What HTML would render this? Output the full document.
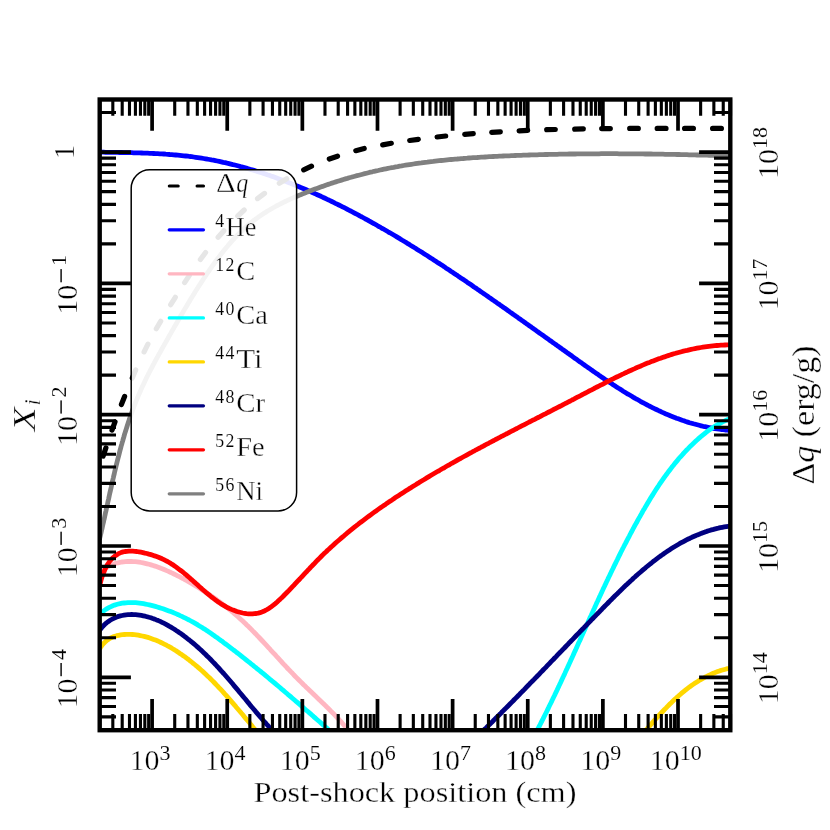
<!DOCTYPE html><html><head><meta charset="utf-8"><title>plot</title>
<style>html,body{margin:0;padding:0;background:#fff;}svg{display:block;will-change:transform;}text{font-family:"Liberation Serif",serif;fill:#000;stroke:#fff;stroke-width:0.35px;}.s{stroke-width:0.12px;}</style></head><body>
<svg width="830" height="830" viewBox="0 0 830 830">
<rect width="830" height="830" fill="#fff"/>
<defs><clipPath id="ax"><rect x="99.7" y="99.5" width="630.6" height="630.7"/></clipPath></defs>
<g clip-path="url(#ax)" fill="none" stroke-width="4.8" stroke-linejoin="round">
<path d="M99.6,152.1 L101.6,152.2 L103.6,152.2 L105.6,152.3 L107.6,152.3 L109.6,152.3 L111.6,152.3 L113.6,152.4 L115.6,152.4 L117.6,152.4 L119.6,152.5 L121.6,152.5 L123.6,152.6 L125.6,152.6 L127.6,152.6 L129.6,152.7 L131.6,152.7 L133.6,152.8 L135.6,152.8 L137.6,152.9 L139.7,152.9 L141.7,153.0 L143.7,153.1 L145.7,153.1 L147.7,153.2 L149.7,153.3 L151.7,153.4 L153.7,153.5 L155.7,153.6 L157.8,153.7 L159.8,153.8 L161.8,153.9 L163.8,154.0 L165.8,154.2 L167.8,154.3 L169.8,154.5 L171.8,154.6 L173.8,154.8 L175.8,155.0 L177.8,155.2 L179.8,155.4 L181.8,155.6 L183.8,155.8 L185.8,156.0 L187.8,156.2 L189.8,156.5 L191.7,156.7 L193.7,157.0 L195.7,157.3 L197.7,157.6 L199.7,157.9 L201.6,158.2 L203.6,158.5 L205.6,158.8 L207.5,159.2 L209.5,159.5 L211.5,159.9 L213.4,160.2 L215.4,160.6 L217.3,161.0 L219.3,161.4 L221.2,161.8 L223.2,162.3 L225.1,162.7 L227.1,163.2 L229.0,163.6 L230.9,164.1 L232.9,164.6 L234.8,165.0 L236.7,165.5 L238.6,166.0 L240.6,166.6 L242.5,167.1 L244.4,167.6 L246.3,168.1 L248.2,168.7 L250.1,169.3 L252.1,169.8 L254.0,170.4 L255.9,171.0 L257.8,171.6 L259.7,172.2 L261.6,172.8 L263.5,173.4 L265.3,174.0 L267.2,174.7 L269.1,175.3 L271.0,176.0 L272.9,176.6 L274.8,177.3 L276.6,178.0 L278.5,178.7 L280.4,179.4 L282.3,180.1 L284.1,180.8 L286.0,181.5 L287.8,182.2 L289.7,182.9 L291.6,183.7 L293.4,184.4 L295.3,185.2 L297.1,185.9 L299.0,186.7 L300.8,187.5 L302.6,188.2 L304.5,189.0 L306.3,189.8 L308.1,190.6 L310.0,191.4 L311.8,192.2 L313.6,193.0 L315.5,193.9 L317.3,194.7 L319.1,195.5 L320.9,196.3 L322.7,197.2 L324.5,198.0 L326.3,198.9 L328.2,199.8 L330.0,200.6 L331.8,201.5 L333.6,202.4 L335.4,203.3 L337.1,204.1 L338.9,205.0 L340.7,205.9 L342.5,206.8 L344.3,207.7 L346.1,208.6 L347.9,209.6 L349.6,210.5 L351.4,211.4 L353.2,212.3 L355.0,213.3 L356.7,214.2 L358.5,215.1 L360.2,216.1 L362.0,217.0 L363.8,218.0 L365.5,219.0 L367.3,219.9 L369.0,220.9 L370.8,221.9 L372.5,222.8 L374.3,223.8 L376.0,224.8 L377.7,225.8 L379.5,226.8 L381.2,227.8 L383.0,228.8 L384.7,229.8 L386.4,230.8 L388.1,231.8 L389.9,232.8 L391.6,233.8 L393.3,234.8 L395.0,235.8 L396.8,236.9 L398.5,237.9 L400.2,238.9 L401.9,240.0 L403.6,241.0 L405.3,242.0 L407.0,243.1 L408.7,244.1 L410.4,245.2 L412.1,246.2 L413.8,247.3 L415.5,248.3 L417.2,249.4 L418.9,250.5 L420.6,251.5 L422.3,252.6 L424.0,253.7 L425.7,254.8 L427.4,255.8 L429.1,256.9 L430.7,258.0 L432.4,259.1 L434.1,260.2 L435.8,261.3 L437.5,262.4 L439.1,263.4 L440.8,264.5 L442.5,265.6 L444.2,266.7 L445.8,267.9 L447.5,269.0 L449.2,270.1 L450.8,271.2 L452.5,272.3 L454.2,273.4 L455.8,274.5 L457.5,275.6 L459.1,276.8 L460.8,277.9 L462.5,279.0 L464.1,280.1 L465.8,281.2 L467.4,282.4 L469.1,283.5 L470.7,284.6 L472.4,285.8 L474.0,286.9 L475.7,288.0 L477.3,289.2 L479.0,290.3 L480.6,291.4 L482.3,292.6 L483.9,293.7 L485.6,294.9 L487.2,296.0 L488.8,297.2 L490.5,298.3 L492.1,299.4 L493.8,300.6 L495.4,301.7 L497.0,302.9 L498.7,304.0 L500.3,305.2 L502.0,306.3 L503.6,307.5 L505.2,308.6 L506.9,309.8 L508.5,310.9 L510.1,312.1 L511.8,313.3 L513.4,314.4 L515.0,315.6 L516.7,316.7 L518.3,317.9 L519.9,319.0 L521.5,320.2 L523.2,321.3 L524.8,322.5 L526.4,323.7 L528.1,324.8 L529.7,326.0 L531.3,327.1 L532.9,328.3 L534.6,329.4 L536.2,330.6 L537.8,331.8 L539.4,332.9 L541.1,334.1 L542.7,335.2 L544.3,336.4 L545.9,337.6 L547.6,338.7 L549.2,339.9 L550.8,341.0 L552.4,342.2 L554.1,343.4 L555.7,344.5 L557.3,345.7 L559.0,346.8 L560.6,348.0 L562.2,349.2 L563.8,350.3 L565.5,351.5 L567.1,352.7 L568.7,353.8 L570.4,355.0 L572.0,356.1 L573.6,357.3 L575.2,358.5 L576.9,359.6 L578.5,360.8 L580.1,362.0 L581.8,363.1 L583.4,364.3 L585.0,365.4 L586.7,366.6 L588.3,367.7 L590.0,368.9 L591.6,370.1 L593.2,371.2 L594.9,372.4 L596.5,373.5 L598.2,374.6 L599.8,375.8 L601.5,376.9 L603.1,378.0 L604.8,379.2 L606.5,380.3 L608.1,381.4 L609.8,382.5 L611.5,383.6 L613.1,384.7 L614.8,385.8 L616.5,386.9 L618.2,388.0 L619.9,389.0 L621.5,390.1 L623.2,391.2 L624.9,392.2 L626.6,393.3 L628.4,394.3 L630.1,395.3 L631.8,396.3 L633.5,397.4 L635.2,398.4 L637.0,399.3 L638.7,400.3 L640.4,401.3 L642.2,402.3 L643.9,403.2 L645.7,404.1 L647.5,405.1 L649.2,406.0 L651.0,406.9 L652.8,407.8 L654.6,408.7 L656.4,409.5 L658.2,410.4 L660.0,411.2 L661.8,412.1 L663.6,412.9 L665.4,413.7 L667.2,414.4 L669.1,415.2 L670.9,416.0 L672.7,416.7 L674.6,417.4 L676.4,418.2 L678.3,418.8 L680.2,419.5 L682.1,420.2 L683.9,420.8 L685.8,421.5 L687.7,422.1 L689.6,422.7 L691.5,423.2 L693.5,423.8 L695.4,424.3 L697.3,424.8 L699.2,425.3 L701.2,425.8 L703.1,426.3 L705.1,426.7 L707.1,427.1 L709.0,427.5 L711.0,427.9 L713.0,428.3 L715.0,428.6 L717.0,428.9 L719.0,429.2 L721.0,429.5 L723.1,429.7 L725.1,430.0 L727.1,430.2 L729.2,430.4 L731.2,430.5 L731.2,430.5" stroke="#0000ff"/>
<path d="M99.0,573.6 L100.6,572.1 L102.2,570.7 L103.9,569.4 L105.5,568.3 L107.2,567.2 L109.0,566.2 L110.7,565.4 L112.5,564.6 L114.3,563.9 L116.1,563.3 L118.0,562.8 L119.9,562.4 L121.7,562.0 L123.6,561.8 L125.5,561.6 L127.5,561.5 L129.4,561.4 L131.4,561.5 L133.3,561.6 L135.3,561.7 L137.3,561.9 L139.2,562.2 L141.2,562.5 L143.2,562.9 L145.2,563.3 L147.2,563.8 L149.1,564.3 L151.1,564.9 L153.1,565.5 L155.0,566.1 L157.0,566.8 L158.9,567.5 L160.9,568.3 L162.8,569.0 L164.7,569.8 L166.6,570.6 L168.5,571.4 L170.3,572.3 L172.2,573.1 L174.0,574.0 L175.8,574.9 L177.6,575.8 L179.4,576.7 L181.1,577.6 L182.9,578.5 L184.6,579.5 L186.4,580.4 L188.1,581.4 L189.8,582.4 L191.5,583.4 L193.2,584.4 L194.9,585.4 L196.6,586.5 L198.3,587.5 L200.0,588.6 L201.6,589.6 L203.3,590.7 L205.0,591.8 L206.6,592.9 L208.3,594.0 L209.9,595.1 L211.6,596.2 L213.2,597.3 L214.9,598.5 L216.5,599.6 L218.1,600.8 L219.7,602.0 L221.3,603.1 L222.9,604.3 L224.5,605.6 L226.1,606.8 L227.6,608.0 L229.2,609.3 L230.7,610.5 L232.3,611.8 L233.8,613.1 L235.3,614.4 L236.8,615.7 L238.3,617.0 L239.8,618.4 L241.2,619.7 L242.7,621.1 L244.2,622.5 L245.6,623.8 L247.0,625.2 L248.5,626.6 L249.9,628.0 L251.3,629.4 L252.7,630.9 L254.1,632.3 L255.5,633.7 L256.9,635.2 L258.3,636.6 L259.6,638.0 L261.0,639.5 L262.4,641.0 L263.7,642.4 L265.1,643.9 L266.5,645.4 L267.8,646.8 L269.2,648.3 L270.5,649.8 L271.9,651.3 L273.3,652.8 L274.6,654.2 L276.0,655.7 L277.3,657.2 L278.7,658.7 L280.0,660.1 L281.4,661.6 L282.7,663.1 L284.1,664.6 L285.5,666.0 L286.8,667.5 L288.2,669.0 L289.6,670.4 L291.0,671.9 L292.4,673.3 L293.7,674.8 L295.1,676.2 L296.5,677.6 L297.9,679.0 L299.4,680.5 L300.8,681.9 L302.2,683.3 L303.6,684.7 L305.1,686.1 L306.5,687.5 L307.9,688.8 L309.4,690.2 L310.8,691.6 L312.3,693.0 L313.7,694.4 L315.2,695.7 L316.6,697.1 L318.0,698.5 L319.5,699.9 L320.9,701.3 L322.4,702.7 L323.8,704.0 L325.2,705.4 L326.6,706.8 L328.1,708.2 L329.5,709.6 L330.9,711.1 L332.3,712.5 L333.7,713.9 L335.1,715.4 L336.4,716.8 L337.8,718.3 L339.2,719.7 L340.5,721.2 L341.9,722.7 L343.2,724.2 L344.5,725.7 L345.8,727.2 L347.1,728.8 L348.4,730.3 L349.6,731.9 L350.9,733.5 L352.1,735.1 L352.9,736.1" stroke="#ffb6c1"/>
<path d="M99.3,614.7 L100.8,613.2 L102.5,611.8 L104.1,610.6 L105.8,609.4 L107.5,608.4 L109.3,607.4 L111.0,606.6 L112.8,605.8 L114.6,605.1 L116.5,604.5 L118.3,604.0 L120.2,603.6 L122.1,603.2 L124.0,603.0 L125.9,602.8 L127.8,602.6 L129.7,602.6 L131.7,602.6 L133.6,602.6 L135.6,602.7 L137.6,602.9 L139.5,603.1 L141.5,603.4 L143.5,603.7 L145.5,604.1 L147.5,604.5 L149.4,604.9 L151.4,605.4 L153.4,605.9 L155.3,606.4 L157.3,607.0 L159.2,607.6 L161.2,608.2 L163.1,608.8 L165.0,609.5 L166.9,610.2 L168.9,610.9 L170.7,611.6 L172.6,612.3 L174.5,613.1 L176.4,613.9 L178.2,614.7 L180.1,615.6 L181.9,616.4 L183.7,617.3 L185.5,618.2 L187.3,619.1 L189.1,620.0 L190.9,621.0 L192.6,621.9 L194.4,622.9 L196.1,623.9 L197.8,624.9 L199.5,626.0 L201.2,627.0 L202.9,628.1 L204.6,629.1 L206.3,630.2 L207.9,631.3 L209.6,632.4 L211.2,633.6 L212.8,634.7 L214.4,635.8 L216.0,637.0 L217.7,638.1 L219.3,639.3 L220.9,640.5 L222.5,641.6 L224.0,642.8 L225.6,644.0 L227.2,645.2 L228.8,646.4 L230.4,647.6 L232.0,648.8 L233.5,650.0 L235.1,651.2 L236.7,652.5 L238.3,653.7 L239.9,654.9 L241.4,656.1 L243.0,657.4 L244.6,658.6 L246.1,659.8 L247.7,661.1 L249.3,662.3 L250.8,663.6 L252.4,664.8 L253.9,666.1 L255.5,667.3 L257.0,668.6 L258.6,669.9 L260.2,671.1 L261.7,672.4 L263.3,673.7 L264.8,674.9 L266.3,676.2 L267.9,677.5 L269.4,678.8 L271.0,680.1 L272.5,681.3 L274.1,682.6 L275.6,683.9 L277.1,685.2 L278.7,686.5 L280.2,687.8 L281.7,689.1 L283.3,690.4 L284.8,691.7 L286.3,693.0 L287.8,694.3 L289.4,695.6 L290.9,696.9 L292.4,698.2 L293.9,699.5 L295.4,700.8 L297.0,702.1 L298.5,703.4 L300.0,704.7 L301.5,706.1 L303.0,707.4 L304.5,708.7 L306.0,710.0 L307.6,711.3 L309.1,712.6 L310.6,713.9 L312.1,715.2 L313.6,716.6 L315.1,717.9 L316.6,719.2 L318.1,720.5 L319.6,721.8 L321.1,723.1 L322.6,724.4 L324.1,725.8 L325.6,727.1 L327.1,728.4 L328.6,729.7 L330.1,731.0 L331.6,732.3 L333.0,733.6 L334.5,734.9 L335.3,735.6" stroke="#00ffff"/>
<path d="M534.7,734.9 L535.7,733.1 L536.6,731.4 L537.5,729.6 L538.4,727.8 L539.4,726.0 L540.3,724.2 L541.2,722.4 L542.1,720.6 L543.0,718.9 L543.9,717.1 L544.8,715.3 L545.7,713.5 L546.6,711.7 L547.5,709.9 L548.4,708.1 L549.2,706.3 L550.1,704.5 L551.0,702.7 L551.9,700.9 L552.7,699.1 L553.6,697.3 L554.5,695.5 L555.3,693.7 L556.2,691.9 L557.1,690.0 L557.9,688.2 L558.8,686.4 L559.6,684.6 L560.5,682.8 L561.3,681.0 L562.1,679.2 L563.0,677.4 L563.8,675.6 L564.7,673.7 L565.5,671.9 L566.3,670.1 L567.2,668.3 L568.0,666.5 L568.8,664.7 L569.7,662.8 L570.5,661.0 L571.3,659.2 L572.2,657.4 L573.0,655.6 L573.8,653.7 L574.6,651.9 L575.5,650.1 L576.3,648.3 L577.1,646.5 L577.9,644.6 L578.7,642.8 L579.6,641.0 L580.4,639.2 L581.2,637.4 L582.0,635.5 L582.8,633.7 L583.7,631.9 L584.5,630.1 L585.3,628.3 L586.1,626.4 L586.9,624.6 L587.8,622.8 L588.6,621.0 L589.4,619.2 L590.2,617.3 L591.1,615.5 L591.9,613.7 L592.7,611.9 L593.5,610.1 L594.4,608.3 L595.2,606.4 L596.0,604.6 L596.8,602.8 L597.7,601.0 L598.5,599.2 L599.3,597.4 L600.2,595.5 L601.0,593.7 L601.9,591.9 L602.7,590.1 L603.5,588.3 L604.4,586.5 L605.2,584.7 L606.1,582.9 L606.9,581.1 L607.8,579.3 L608.6,577.5 L609.5,575.7 L610.4,573.9 L611.2,572.1 L612.1,570.3 L613.0,568.5 L613.8,566.7 L614.7,564.9 L615.6,563.1 L616.5,561.3 L617.4,559.5 L618.2,557.7 L619.1,555.9 L620.0,554.1 L620.9,552.3 L621.8,550.5 L622.7,548.7 L623.6,547.0 L624.5,545.2 L625.5,543.4 L626.4,541.6 L627.3,539.8 L628.2,538.1 L629.2,536.3 L630.1,534.5 L631.0,532.7 L632.0,531.0 L632.9,529.2 L633.9,527.4 L634.8,525.7 L635.8,523.9 L636.8,522.2 L637.7,520.4 L638.7,518.6 L639.7,516.9 L640.7,515.1 L641.7,513.4 L642.6,511.6 L643.6,509.9 L644.7,508.2 L645.7,506.4 L646.7,504.7 L647.7,503.0 L648.8,501.2 L649.8,499.5 L650.8,497.8 L651.9,496.1 L653.0,494.4 L654.0,492.7 L655.1,491.0 L656.2,489.3 L657.3,487.6 L658.4,486.0 L659.5,484.3 L660.6,482.6 L661.8,481.0 L662.9,479.4 L664.1,477.7 L665.2,476.1 L666.4,474.5 L667.6,472.9 L668.8,471.3 L670.0,469.7 L671.2,468.1 L672.4,466.5 L673.7,465.0 L674.9,463.4 L676.2,461.9 L677.5,460.4 L678.7,458.8 L680.0,457.3 L681.4,455.8 L682.7,454.4 L684.0,452.9 L685.4,451.4 L686.7,450.0 L688.1,448.6 L689.5,447.1 L690.9,445.7 L692.3,444.4 L693.8,443.0 L695.2,441.6 L696.7,440.3 L698.2,438.9 L699.7,437.6 L701.2,436.3 L702.7,435.1 L704.3,433.8 L705.8,432.6 L707.4,431.4 L709.0,430.2 L710.7,429.1 L712.3,427.9 L714.0,426.8 L715.7,425.8 L717.4,424.8 L719.1,423.8 L720.9,422.8 L722.6,421.9 L724.4,421.1 L726.3,420.2 L728.1,419.4 L730.0,418.7 L730.8,418.4" stroke="#00ffff"/>
<path d="M99.6,649.2 L100.7,647.2 L102.0,645.4 L103.3,643.7 L104.8,642.2 L106.3,640.9 L107.9,639.7 L109.5,638.6 L111.2,637.7 L113.0,636.9 L114.9,636.3 L116.7,635.7 L118.6,635.3 L120.6,634.9 L122.5,634.7 L124.5,634.5 L126.5,634.4 L128.5,634.4 L130.4,634.4 L132.4,634.5 L134.4,634.7 L136.3,634.9 L138.3,635.2 L140.2,635.6 L142.2,636.0 L144.1,636.4 L146.0,636.9 L147.9,637.4 L149.8,638.0 L151.7,638.7 L153.6,639.4 L155.5,640.1 L157.3,640.8 L159.2,641.6 L161.0,642.5 L162.8,643.4 L164.7,644.3 L166.5,645.2 L168.2,646.2 L170.0,647.2 L171.8,648.2 L173.5,649.2 L175.2,650.3 L177.0,651.4 L178.6,652.5 L180.3,653.7 L182.0,654.8 L183.6,656.0 L185.3,657.1 L186.9,658.3 L188.5,659.5 L190.1,660.8 L191.6,662.0 L193.2,663.3 L194.7,664.5 L196.3,665.8 L197.8,667.1 L199.3,668.4 L200.8,669.7 L202.3,671.0 L203.7,672.4 L205.2,673.7 L206.6,675.1 L208.0,676.5 L209.5,677.8 L210.9,679.2 L212.3,680.6 L213.7,682.0 L215.1,683.5 L216.4,684.9 L217.8,686.3 L219.2,687.8 L220.5,689.2 L221.9,690.7 L223.2,692.1 L224.5,693.6 L225.9,695.1 L227.2,696.6 L228.5,698.1 L229.8,699.6 L231.1,701.1 L232.4,702.6 L233.7,704.1 L235.0,705.6 L236.3,707.2 L237.6,708.7 L238.9,710.2 L240.2,711.7 L241.5,713.3 L242.8,714.8 L244.1,716.4 L245.3,717.9 L246.6,719.5 L247.9,721.0 L249.2,722.5 L250.5,724.1 L251.8,725.6 L253.0,727.2 L254.3,728.7 L255.6,730.3 L256.9,731.8 L258.2,733.4 L259.5,734.9 L260.8,736.5 L261.2,736.9" stroke="#ffd700"/>
<path d="M642.0,734.9 L643.3,733.4 L644.6,731.9 L645.8,730.4 L647.1,728.9 L648.4,727.4 L649.7,725.9 L651.0,724.4 L652.3,722.9 L653.6,721.4 L654.9,719.9 L656.3,718.4 L657.6,716.9 L659.0,715.4 L660.3,714.0 L661.7,712.5 L663.1,711.0 L664.5,709.5 L665.9,708.1 L667.3,706.6 L668.7,705.2 L670.1,703.8 L671.6,702.4 L673.0,701.0 L674.5,699.6 L676.0,698.2 L677.5,696.9 L679.0,695.5 L680.5,694.2 L682.0,692.9 L683.6,691.6 L685.1,690.4 L686.7,689.1 L688.3,687.9 L689.9,686.7 L691.5,685.6 L693.2,684.4 L694.8,683.3 L696.5,682.2 L698.1,681.2 L699.8,680.1 L701.6,679.1 L703.3,678.2 L705.0,677.2 L706.8,676.3 L708.6,675.4 L710.4,674.6 L712.2,673.8 L714.0,673.0 L715.9,672.3 L717.7,671.6 L719.6,670.9 L721.5,670.3 L723.5,669.7 L725.4,669.2 L727.4,668.7 L729.4,668.3 L731.0,667.9" stroke="#ffd700"/>
<path d="M99.1,631.0 L100.5,629.1 L101.9,627.4 L103.4,625.8 L104.9,624.3 L106.5,622.9 L108.1,621.7 L109.8,620.5 L111.5,619.5 L113.2,618.6 L114.9,617.8 L116.7,617.0 L118.5,616.4 L120.4,615.9 L122.2,615.5 L124.1,615.1 L126.0,614.8 L127.9,614.7 L129.8,614.6 L131.7,614.5 L133.6,614.6 L135.6,614.7 L137.5,614.9 L139.4,615.1 L141.4,615.4 L143.3,615.8 L145.2,616.2 L147.1,616.7 L149.0,617.3 L150.9,617.8 L152.8,618.5 L154.6,619.1 L156.5,619.9 L158.3,620.6 L160.2,621.4 L162.0,622.3 L163.8,623.2 L165.6,624.1 L167.4,625.1 L169.1,626.1 L170.9,627.1 L172.7,628.2 L174.4,629.2 L176.1,630.4 L177.8,631.5 L179.5,632.7 L181.2,633.8 L182.8,635.0 L184.5,636.3 L186.1,637.5 L187.7,638.8 L189.3,640.0 L190.9,641.3 L192.5,642.6 L194.0,643.9 L195.6,645.3 L197.1,646.6 L198.6,647.9 L200.1,649.3 L201.6,650.6 L203.0,652.0 L204.5,653.4 L205.9,654.8 L207.3,656.2 L208.8,657.6 L210.2,659.0 L211.5,660.4 L212.9,661.9 L214.3,663.3 L215.7,664.7 L217.0,666.2 L218.4,667.6 L219.7,669.1 L221.0,670.6 L222.4,672.1 L223.7,673.5 L225.0,675.0 L226.3,676.5 L227.6,678.0 L228.9,679.5 L230.2,681.0 L231.5,682.5 L232.8,684.0 L234.0,685.6 L235.3,687.1 L236.6,688.6 L237.9,690.1 L239.1,691.7 L240.4,693.2 L241.7,694.7 L242.9,696.2 L244.2,697.8 L245.5,699.3 L246.7,700.8 L248.0,702.4 L249.3,703.9 L250.5,705.4 L251.8,707.0 L253.1,708.5 L254.4,710.0 L255.7,711.6 L257.0,713.1 L258.3,714.6 L259.6,716.1 L260.9,717.6 L262.2,719.2 L263.5,720.7 L264.8,722.2 L266.2,723.7 L267.5,725.2 L268.9,726.7 L270.2,728.2 L271.6,729.7 L273.0,731.2 L274.4,732.6 L275.8,734.1 L277.2,735.6 L278.4,736.8" stroke="#000080"/>
<path d="M478.9,734.9 L480.3,733.5 L481.7,732.1 L483.2,730.7 L484.6,729.3 L486.1,727.9 L487.5,726.5 L488.9,725.1 L490.3,723.7 L491.8,722.3 L493.2,720.8 L494.6,719.4 L496.0,718.0 L497.5,716.6 L498.9,715.2 L500.3,713.8 L501.7,712.3 L503.1,710.9 L504.5,709.5 L505.9,708.1 L507.3,706.7 L508.8,705.2 L510.2,703.8 L511.6,702.4 L513.0,701.0 L514.4,699.5 L515.8,698.1 L517.2,696.7 L518.6,695.3 L520.0,693.8 L521.4,692.4 L522.8,691.0 L524.2,689.6 L525.6,688.1 L526.9,686.7 L528.3,685.3 L529.7,683.8 L531.1,682.4 L532.5,681.0 L533.9,679.6 L535.3,678.1 L536.7,676.7 L538.1,675.3 L539.5,673.8 L540.8,672.4 L542.2,671.0 L543.6,669.5 L545.0,668.1 L546.4,666.7 L547.8,665.2 L549.1,663.8 L550.5,662.3 L551.9,660.9 L553.3,659.5 L554.7,658.0 L556.1,656.6 L557.4,655.2 L558.8,653.7 L560.2,652.3 L561.6,650.9 L563.0,649.4 L564.4,648.0 L565.8,646.5 L567.1,645.1 L568.5,643.7 L569.9,642.2 L571.3,640.8 L572.7,639.4 L574.1,637.9 L575.4,636.5 L576.8,635.0 L578.2,633.6 L579.6,632.2 L581.0,630.7 L582.4,629.3 L583.8,627.9 L585.2,626.4 L586.6,625.0 L587.9,623.5 L589.3,622.1 L590.7,620.7 L592.1,619.2 L593.5,617.8 L594.9,616.4 L596.3,614.9 L597.7,613.5 L599.1,612.1 L600.5,610.6 L601.9,609.2 L603.3,607.7 L604.7,606.3 L606.1,604.9 L607.5,603.5 L608.9,602.0 L610.3,600.6 L611.8,599.2 L613.2,597.7 L614.6,596.3 L616.0,594.9 L617.5,593.5 L618.9,592.1 L620.3,590.7 L621.8,589.3 L623.2,587.9 L624.6,586.5 L626.1,585.1 L627.6,583.8 L629.0,582.4 L630.5,581.0 L632.0,579.7 L633.4,578.3 L634.9,577.0 L636.4,575.6 L637.9,574.3 L639.4,573.0 L640.9,571.7 L642.4,570.4 L643.9,569.1 L645.5,567.8 L647.0,566.5 L648.5,565.3 L650.1,564.0 L651.7,562.8 L653.2,561.5 L654.8,560.3 L656.4,559.1 L658.0,557.9 L659.6,556.7 L661.2,555.6 L662.8,554.4 L664.4,553.3 L666.1,552.1 L667.7,551.0 L669.4,549.9 L671.1,548.8 L672.7,547.8 L674.4,546.7 L676.1,545.7 L677.8,544.7 L679.5,543.7 L681.3,542.7 L683.0,541.8 L684.8,540.8 L686.5,539.9 L688.3,539.0 L690.1,538.2 L691.9,537.3 L693.7,536.5 L695.5,535.7 L697.4,534.9 L699.2,534.2 L701.1,533.4 L702.9,532.7 L704.8,532.1 L706.7,531.4 L708.6,530.8 L710.5,530.2 L712.5,529.7 L714.4,529.1 L716.4,528.6 L718.3,528.2 L720.3,527.7 L722.3,527.3 L724.3,526.9 L726.3,526.6 L728.4,526.3 L730.4,526.0 L731.1,525.9" stroke="#000080"/>
<path d="M100.1,584.2 L100.5,582.3 L101.0,580.4 L101.6,578.4 L102.2,576.4 L102.9,574.5 L103.7,572.5 L104.5,570.5 L105.3,568.6 L106.3,566.7 L107.3,564.9 L108.4,563.2 L109.5,561.5 L110.8,560.0 L112.1,558.5 L113.5,557.2 L114.9,556.0 L116.5,554.9 L118.0,553.9 L119.7,553.1 L121.4,552.4 L123.2,551.9 L125.1,551.5 L126.9,551.3 L128.9,551.1 L130.8,551.1 L132.8,551.2 L134.8,551.3 L136.9,551.5 L138.9,551.8 L140.9,552.2 L142.9,552.6 L144.9,553.1 L146.9,553.5 L148.9,554.1 L150.9,554.6 L152.8,555.2 L154.7,555.9 L156.6,556.5 L158.5,557.2 L160.3,558.0 L162.1,558.8 L163.9,559.7 L165.7,560.6 L167.5,561.5 L169.2,562.5 L170.9,563.6 L172.6,564.6 L174.2,565.7 L175.9,566.9 L177.5,568.1 L179.1,569.3 L180.7,570.5 L182.3,571.7 L183.9,573.0 L185.5,574.3 L187.0,575.6 L188.6,577.0 L190.1,578.3 L191.6,579.7 L193.2,581.0 L194.7,582.4 L196.2,583.7 L197.7,585.1 L199.2,586.5 L200.8,587.8 L202.3,589.2 L203.8,590.5 L205.3,591.8 L206.9,593.2 L208.4,594.4 L210.0,595.7 L211.5,597.0 L213.1,598.2 L214.7,599.4 L216.3,600.6 L217.9,601.7 L219.5,602.8 L221.2,603.9 L222.8,604.9 L224.5,605.9 L226.2,606.9 L227.9,607.8 L229.7,608.6 L231.5,609.4 L233.2,610.1 L235.1,610.8 L236.9,611.5 L238.8,612.0 L240.7,612.5 L242.6,613.0 L244.6,613.3 L246.5,613.6 L248.5,613.8 L250.5,613.9 L252.5,613.9 L254.4,613.7 L256.3,613.5 L258.2,613.1 L260.1,612.6 L261.9,612.0 L263.7,611.3 L265.4,610.4 L267.1,609.5 L268.8,608.4 L270.5,607.3 L272.1,606.1 L273.7,604.9 L275.3,603.6 L276.9,602.2 L278.4,600.8 L280.0,599.4 L281.5,597.9 L283.0,596.5 L284.4,595.0 L285.9,593.5 L287.4,592.0 L288.8,590.6 L290.2,589.1 L291.6,587.6 L293.0,586.1 L294.4,584.7 L295.8,583.2 L297.2,581.7 L298.6,580.2 L300.0,578.8 L301.3,577.3 L302.7,575.8 L304.0,574.4 L305.4,572.9 L306.8,571.5 L308.1,570.0 L309.5,568.6 L310.8,567.1 L312.2,565.7 L313.6,564.3 L315.0,562.8 L316.3,561.4 L317.7,560.0 L319.1,558.6 L320.5,557.2 L321.9,555.8 L323.3,554.4 L324.7,553.0 L326.2,551.7 L327.6,550.3 L329.1,549.0 L330.5,547.6 L332.0,546.3 L333.5,544.9 L334.9,543.6 L336.4,542.3 L337.9,541.0 L339.4,539.7 L340.9,538.4 L342.4,537.1 L344.0,535.8 L345.5,534.5 L347.0,533.2 L348.6,531.9 L350.1,530.7 L351.7,529.4 L353.2,528.2 L354.8,526.9 L356.4,525.7 L357.9,524.5 L359.5,523.2 L361.1,522.0 L362.7,520.8 L364.3,519.6 L365.9,518.4 L367.5,517.2 L369.1,516.0 L370.7,514.8 L372.3,513.6 L374.0,512.4 L375.6,511.3 L377.2,510.1 L378.9,508.9 L380.5,507.8 L382.2,506.6 L383.8,505.5 L385.5,504.4 L387.1,503.2 L388.8,502.1 L390.4,501.0 L392.1,499.9 L393.8,498.7 L395.4,497.6 L397.1,496.5 L398.8,495.4 L400.5,494.3 L402.2,493.2 L403.8,492.2 L405.5,491.1 L407.2,490.0 L408.9,488.9 L410.6,487.9 L412.3,486.8 L414.0,485.7 L415.7,484.7 L417.4,483.6 L419.1,482.6 L420.8,481.5 L422.5,480.5 L424.2,479.5 L425.9,478.4 L427.6,477.4 L429.3,476.4 L431.1,475.3 L432.8,474.3 L434.5,473.3 L436.2,472.3 L437.9,471.3 L439.7,470.3 L441.4,469.3 L443.1,468.3 L444.9,467.3 L446.6,466.3 L448.3,465.3 L450.1,464.3 L451.8,463.3 L453.5,462.4 L455.3,461.4 L457.0,460.4 L458.7,459.4 L460.5,458.5 L462.2,457.5 L464.0,456.5 L465.7,455.6 L467.5,454.6 L469.2,453.7 L471.0,452.7 L472.7,451.7 L474.5,450.8 L476.2,449.8 L478.0,448.9 L479.8,448.0 L481.5,447.0 L483.3,446.1 L485.0,445.1 L486.8,444.2 L488.6,443.3 L490.3,442.3 L492.1,441.4 L493.9,440.5 L495.6,439.5 L497.4,438.6 L499.2,437.7 L500.9,436.7 L502.7,435.8 L504.5,434.9 L506.2,434.0 L508.0,433.1 L509.8,432.1 L511.6,431.2 L513.3,430.3 L515.1,429.4 L516.9,428.5 L518.7,427.5 L520.4,426.6 L522.2,425.7 L524.0,424.8 L525.8,423.9 L527.5,423.0 L529.3,422.0 L531.1,421.1 L532.9,420.2 L534.7,419.3 L536.4,418.4 L538.2,417.5 L540.0,416.6 L541.8,415.6 L543.6,414.7 L545.4,413.8 L547.1,412.9 L548.9,412.0 L550.7,411.1 L552.5,410.2 L554.3,409.2 L556.0,408.3 L557.8,407.4 L559.6,406.5 L561.4,405.6 L563.2,404.6 L565.0,403.7 L566.7,402.8 L568.5,401.9 L570.3,401.0 L572.1,400.0 L573.9,399.1 L575.6,398.2 L577.4,397.2 L579.2,396.3 L581.0,395.4 L582.8,394.4 L584.5,393.5 L586.3,392.6 L588.1,391.7 L589.9,390.7 L591.7,389.8 L593.5,388.9 L595.2,387.9 L597.0,387.0 L598.8,386.1 L600.6,385.2 L602.4,384.3 L604.2,383.3 L605.9,382.4 L607.7,381.5 L609.5,380.6 L611.3,379.7 L613.1,378.8 L614.9,377.9 L616.7,377.0 L618.5,376.2 L620.3,375.3 L622.1,374.4 L623.9,373.6 L625.7,372.7 L627.5,371.9 L629.3,371.0 L631.2,370.2 L633.0,369.4 L634.8,368.6 L636.6,367.7 L638.4,366.9 L640.3,366.2 L642.1,365.4 L643.9,364.6 L645.8,363.8 L647.6,363.1 L649.5,362.4 L651.3,361.6 L653.2,360.9 L655.0,360.2 L656.9,359.5 L658.7,358.8 L660.6,358.2 L662.5,357.5 L664.4,356.9 L666.2,356.2 L668.1,355.6 L670.0,355.0 L671.9,354.4 L673.8,353.8 L675.7,353.3 L677.6,352.7 L679.5,352.2 L681.4,351.7 L683.4,351.2 L685.3,350.7 L687.2,350.3 L689.2,349.8 L691.1,349.4 L693.0,349.0 L695.0,348.6 L697.0,348.2 L698.9,347.8 L700.9,347.5 L702.9,347.2 L704.9,346.9 L706.8,346.6 L708.8,346.3 L710.8,346.1 L712.9,345.9 L714.9,345.7 L716.9,345.5 L718.9,345.3 L721.0,345.2 L723.0,345.1 L725.0,345.0 L727.1,344.9 L729.2,344.9 L731.2,344.9" stroke="#ff0000"/>
<path d="M99.4,539.9 L99.8,537.9 L100.3,536.0 L100.7,534.1 L101.2,532.1 L101.6,530.2 L102.1,528.3 L102.5,526.3 L102.9,524.4 L103.4,522.5 L103.8,520.5 L104.3,518.6 L104.7,516.6 L105.1,514.7 L105.5,512.7 L106.0,510.8 L106.4,508.8 L106.8,506.9 L107.3,504.9 L107.7,502.9 L108.1,501.0 L108.6,499.0 L109.0,497.1 L109.4,495.1 L109.8,493.2 L110.3,491.2 L110.7,489.3 L111.2,487.3 L111.6,485.3 L112.0,483.4 L112.5,481.4 L112.9,479.5 L113.4,477.5 L113.8,475.6 L114.3,473.6 L114.7,471.6 L115.2,469.7 L115.7,467.7 L116.1,465.8 L116.6,463.8 L117.1,461.9 L117.6,459.9 L118.1,458.0 L118.6,456.1 L119.1,454.1 L119.6,452.2 L120.1,450.2 L120.6,448.3 L121.1,446.4 L121.7,444.4 L122.2,442.5 L122.8,440.6 L123.3,438.7 L123.9,436.7 L124.4,434.8 L125.0,432.9 L125.6,431.0 L126.2,429.1 L126.8,427.2 L127.4,425.3 L128.0,423.4 L128.6,421.5 L129.3,419.6 L129.9,417.7 L130.6,415.8 L131.2,414.0 L131.9,412.1 L132.6,410.2 L133.3,408.3 L134.0,406.5 L134.7,404.6 L135.4,402.8 L136.2,400.9 L136.9,399.1 L137.7,397.2 L138.5,395.4 L139.3,393.6 L140.1,391.7 L140.9,389.9 L141.7,388.1 L142.5,386.3 L143.4,384.5 L144.2,382.7 L145.1,380.9 L145.9,379.1 L146.8,377.3 L147.7,375.5 L148.6,373.7 L149.5,372.0 L150.4,370.2 L151.4,368.4 L152.3,366.6 L153.2,364.9 L154.2,363.1 L155.1,361.3 L156.0,359.6 L157.0,357.8 L158.0,356.1 L158.9,354.3 L159.9,352.6 L160.9,350.8 L161.8,349.1 L162.8,347.3 L163.8,345.6 L164.8,343.8 L165.8,342.1 L166.8,340.3 L167.8,338.6 L168.7,336.9 L169.7,335.1 L170.7,333.4 L171.7,331.6 L172.7,329.9 L173.7,328.2 L174.7,326.4 L175.7,324.7 L176.7,323.0 L177.7,321.2 L178.7,319.5 L179.7,317.8 L180.7,316.0 L181.7,314.3 L182.7,312.6 L183.7,310.9 L184.8,309.1 L185.8,307.4 L186.8,305.7 L187.8,304.0 L188.9,302.3 L189.9,300.5 L190.9,298.8 L192.0,297.1 L193.0,295.4 L194.1,293.7 L195.1,292.0 L196.2,290.3 L197.3,288.6 L198.3,286.9 L199.4,285.2 L200.5,283.6 L201.6,281.9 L202.7,280.2 L203.8,278.5 L204.9,276.9 L206.0,275.2 L207.1,273.5 L208.3,271.9 L209.4,270.2 L210.5,268.6 L211.7,266.9 L212.8,265.3 L214.0,263.6 L215.2,262.0 L216.4,260.4 L217.6,258.8 L218.8,257.2 L220.0,255.6 L221.2,254.0 L222.4,252.4 L223.7,250.8 L224.9,249.3 L226.2,247.7 L227.5,246.2 L228.8,244.6 L230.1,243.1 L231.4,241.6 L232.7,240.1 L234.1,238.7 L235.4,237.2 L236.8,235.8 L238.2,234.4 L239.6,233.0 L241.0,231.6 L242.4,230.2 L243.9,228.8 L245.4,227.5 L246.8,226.2 L248.3,224.9 L249.9,223.6 L251.4,222.4 L252.9,221.2 L254.5,219.9 L256.1,218.8 L257.7,217.6 L259.3,216.4 L261.0,215.3 L262.6,214.2 L264.3,213.1 L266.0,212.1 L267.6,211.0 L269.4,210.0 L271.1,209.0 L272.8,208.0 L274.6,207.0 L276.3,206.0 L278.1,205.1 L279.9,204.2 L281.6,203.3 L283.4,202.4 L285.2,201.5 L287.1,200.6 L288.9,199.8 L290.7,198.9 L292.6,198.1 L294.4,197.3 L296.3,196.5 L298.1,195.7 L300.0,194.9 L301.8,194.2 L303.7,193.4 L305.6,192.7 L307.5,191.9 L309.3,191.2 L311.2,190.5 L313.1,189.8 L315.0,189.1 L316.9,188.4 L318.8,187.7 L320.6,187.0 L322.5,186.4 L324.4,185.7 L326.3,185.0 L328.2,184.4 L330.1,183.8 L332.0,183.1 L333.9,182.5 L335.8,181.9 L337.7,181.3 L339.6,180.7 L341.5,180.1 L343.4,179.5 L345.4,178.9 L347.3,178.4 L349.2,177.8 L351.1,177.3 L353.0,176.7 L354.9,176.2 L356.9,175.7 L358.8,175.2 L360.7,174.7 L362.6,174.2 L364.6,173.7 L366.5,173.2 L368.4,172.7 L370.4,172.2 L372.3,171.8 L374.2,171.3 L376.2,170.9 L378.1,170.5 L380.1,170.0 L382.0,169.6 L384.0,169.2 L385.9,168.8 L387.9,168.4 L389.8,168.0 L391.8,167.6 L393.7,167.3 L395.7,166.9 L397.7,166.6 L399.6,166.2 L401.6,165.9 L403.6,165.5 L405.5,165.2 L407.5,164.9 L409.5,164.6 L411.4,164.3 L413.4,164.0 L415.4,163.7 L417.4,163.4 L419.3,163.1 L421.3,162.9 L423.3,162.6 L425.3,162.3 L427.3,162.1 L429.2,161.8 L431.2,161.6 L433.2,161.4 L435.2,161.1 L437.2,160.9 L439.2,160.7 L441.2,160.5 L443.2,160.3 L445.2,160.1 L447.2,159.9 L449.1,159.7 L451.1,159.5 L453.1,159.3 L455.1,159.1 L457.1,159.0 L459.1,158.8 L461.1,158.6 L463.1,158.5 L465.1,158.3 L467.1,158.2 L469.1,158.0 L471.1,157.9 L473.1,157.7 L475.1,157.6 L477.1,157.5 L479.1,157.3 L481.1,157.2 L483.1,157.1 L485.1,157.0 L487.1,156.9 L489.1,156.7 L491.1,156.6 L493.2,156.5 L495.2,156.4 L497.2,156.3 L499.2,156.2 L501.2,156.1 L503.2,156.0 L505.2,155.9 L507.2,155.9 L509.2,155.8 L511.2,155.7 L513.2,155.6 L515.2,155.5 L517.2,155.4 L519.2,155.4 L521.2,155.3 L523.2,155.2 L525.2,155.1 L527.2,155.1 L529.2,155.0 L531.2,154.9 L533.2,154.9 L535.2,154.8 L537.2,154.8 L539.2,154.7 L541.2,154.6 L543.2,154.6 L545.2,154.5 L547.2,154.5 L549.2,154.4 L551.2,154.4 L553.2,154.3 L555.2,154.3 L557.2,154.3 L559.2,154.2 L561.2,154.2 L563.2,154.1 L565.2,154.1 L567.2,154.1 L569.2,154.0 L571.2,154.0 L573.2,154.0 L575.2,154.0 L577.2,153.9 L579.2,153.9 L581.2,153.9 L583.2,153.9 L585.2,153.8 L587.1,153.8 L589.1,153.8 L591.1,153.8 L593.1,153.8 L595.1,153.8 L597.1,153.8 L599.1,153.8 L601.1,153.7 L603.1,153.7 L605.1,153.7 L607.1,153.7 L609.1,153.7 L611.1,153.7 L613.1,153.7 L615.1,153.7 L617.1,153.7 L619.1,153.8 L621.1,153.8 L623.1,153.8 L625.1,153.8 L627.1,153.8 L629.1,153.8 L631.1,153.8 L633.1,153.8 L635.1,153.8 L637.1,153.9 L639.1,153.9 L641.1,153.9 L643.1,153.9 L645.1,154.0 L647.1,154.0 L649.1,154.0 L651.1,154.0 L653.1,154.1 L655.1,154.1 L657.0,154.1 L659.0,154.1 L661.0,154.2 L663.0,154.2 L665.0,154.3 L667.0,154.3 L669.0,154.3 L671.0,154.4 L673.0,154.4 L675.0,154.4 L677.0,154.5 L679.0,154.5 L681.0,154.6 L683.0,154.6 L685.0,154.7 L687.0,154.7 L689.0,154.8 L691.0,154.8 L693.0,154.9 L695.0,154.9 L697.0,155.0 L699.0,155.0 L701.1,155.1 L703.1,155.1 L705.1,155.2 L707.1,155.2 L709.1,155.3 L711.1,155.4 L713.1,155.4 L715.1,155.5 L717.1,155.5 L719.1,155.6 L721.1,155.7 L723.1,155.7 L725.1,155.8 L727.1,155.8 L729.1,155.9 L731.0,156.0" stroke="#808080"/>
</g>
<g stroke="#000" fill="none"><path d="M99.59,730.2v-16.3M99.59,99.5v16.3" stroke-width="3.1"/><path d="M112.82,730.2v-16.3M112.82,99.5v16.3" stroke-width="3.1"/><path d="M122.20,730.2v-16.3M122.20,99.5v16.3" stroke-width="3.1"/><path d="M129.48,730.2v-16.3M129.48,99.5v16.3" stroke-width="3.1"/><path d="M135.43,730.2v-16.3M135.43,99.5v16.3" stroke-width="3.1"/><path d="M140.46,730.2v-16.3M140.46,99.5v16.3" stroke-width="3.1"/><path d="M144.82,730.2v-16.3M144.82,99.5v16.3" stroke-width="3.1"/><path d="M148.66,730.2v-16.3M148.66,99.5v16.3" stroke-width="3.1"/><path d="M152.10,730.2v-31.2M152.10,99.5v31.2" stroke-width="3.7"/><path d="M174.72,730.2v-16.3M174.72,99.5v16.3" stroke-width="3.1"/><path d="M187.95,730.2v-16.3M187.95,99.5v16.3" stroke-width="3.1"/><path d="M197.33,730.2v-16.3M197.33,99.5v16.3" stroke-width="3.1"/><path d="M204.61,730.2v-16.3M204.61,99.5v16.3" stroke-width="3.1"/><path d="M210.56,730.2v-16.3M210.56,99.5v16.3" stroke-width="3.1"/><path d="M215.59,730.2v-16.3M215.59,99.5v16.3" stroke-width="3.1"/><path d="M219.95,730.2v-16.3M219.95,99.5v16.3" stroke-width="3.1"/><path d="M223.79,730.2v-16.3M223.79,99.5v16.3" stroke-width="3.1"/><path d="M227.23,730.2v-31.2M227.23,99.5v31.2" stroke-width="3.7"/><path d="M249.85,730.2v-16.3M249.85,99.5v16.3" stroke-width="3.1"/><path d="M263.08,730.2v-16.3M263.08,99.5v16.3" stroke-width="3.1"/><path d="M272.46,730.2v-16.3M272.46,99.5v16.3" stroke-width="3.1"/><path d="M279.74,730.2v-16.3M279.74,99.5v16.3" stroke-width="3.1"/><path d="M285.69,730.2v-16.3M285.69,99.5v16.3" stroke-width="3.1"/><path d="M290.72,730.2v-16.3M290.72,99.5v16.3" stroke-width="3.1"/><path d="M295.08,730.2v-16.3M295.08,99.5v16.3" stroke-width="3.1"/><path d="M298.92,730.2v-16.3M298.92,99.5v16.3" stroke-width="3.1"/><path d="M302.36,730.2v-31.2M302.36,99.5v31.2" stroke-width="3.7"/><path d="M324.98,730.2v-16.3M324.98,99.5v16.3" stroke-width="3.1"/><path d="M338.21,730.2v-16.3M338.21,99.5v16.3" stroke-width="3.1"/><path d="M347.59,730.2v-16.3M347.59,99.5v16.3" stroke-width="3.1"/><path d="M354.87,730.2v-16.3M354.87,99.5v16.3" stroke-width="3.1"/><path d="M360.82,730.2v-16.3M360.82,99.5v16.3" stroke-width="3.1"/><path d="M365.85,730.2v-16.3M365.85,99.5v16.3" stroke-width="3.1"/><path d="M370.21,730.2v-16.3M370.21,99.5v16.3" stroke-width="3.1"/><path d="M374.05,730.2v-16.3M374.05,99.5v16.3" stroke-width="3.1"/><path d="M377.49,730.2v-31.2M377.49,99.5v31.2" stroke-width="3.7"/><path d="M400.11,730.2v-16.3M400.11,99.5v16.3" stroke-width="3.1"/><path d="M413.34,730.2v-16.3M413.34,99.5v16.3" stroke-width="3.1"/><path d="M422.72,730.2v-16.3M422.72,99.5v16.3" stroke-width="3.1"/><path d="M430.00,730.2v-16.3M430.00,99.5v16.3" stroke-width="3.1"/><path d="M435.95,730.2v-16.3M435.95,99.5v16.3" stroke-width="3.1"/><path d="M440.98,730.2v-16.3M440.98,99.5v16.3" stroke-width="3.1"/><path d="M445.34,730.2v-16.3M445.34,99.5v16.3" stroke-width="3.1"/><path d="M449.18,730.2v-16.3M449.18,99.5v16.3" stroke-width="3.1"/><path d="M452.62,730.2v-31.2M452.62,99.5v31.2" stroke-width="3.7"/><path d="M475.24,730.2v-16.3M475.24,99.5v16.3" stroke-width="3.1"/><path d="M488.47,730.2v-16.3M488.47,99.5v16.3" stroke-width="3.1"/><path d="M497.85,730.2v-16.3M497.85,99.5v16.3" stroke-width="3.1"/><path d="M505.13,730.2v-16.3M505.13,99.5v16.3" stroke-width="3.1"/><path d="M511.08,730.2v-16.3M511.08,99.5v16.3" stroke-width="3.1"/><path d="M516.11,730.2v-16.3M516.11,99.5v16.3" stroke-width="3.1"/><path d="M520.47,730.2v-16.3M520.47,99.5v16.3" stroke-width="3.1"/><path d="M524.31,730.2v-16.3M524.31,99.5v16.3" stroke-width="3.1"/><path d="M527.75,730.2v-31.2M527.75,99.5v31.2" stroke-width="3.7"/><path d="M550.37,730.2v-16.3M550.37,99.5v16.3" stroke-width="3.1"/><path d="M563.60,730.2v-16.3M563.60,99.5v16.3" stroke-width="3.1"/><path d="M572.98,730.2v-16.3M572.98,99.5v16.3" stroke-width="3.1"/><path d="M580.26,730.2v-16.3M580.26,99.5v16.3" stroke-width="3.1"/><path d="M586.21,730.2v-16.3M586.21,99.5v16.3" stroke-width="3.1"/><path d="M591.24,730.2v-16.3M591.24,99.5v16.3" stroke-width="3.1"/><path d="M595.60,730.2v-16.3M595.60,99.5v16.3" stroke-width="3.1"/><path d="M599.44,730.2v-16.3M599.44,99.5v16.3" stroke-width="3.1"/><path d="M602.88,730.2v-31.2M602.88,99.5v31.2" stroke-width="3.7"/><path d="M625.50,730.2v-16.3M625.50,99.5v16.3" stroke-width="3.1"/><path d="M638.73,730.2v-16.3M638.73,99.5v16.3" stroke-width="3.1"/><path d="M648.11,730.2v-16.3M648.11,99.5v16.3" stroke-width="3.1"/><path d="M655.39,730.2v-16.3M655.39,99.5v16.3" stroke-width="3.1"/><path d="M661.34,730.2v-16.3M661.34,99.5v16.3" stroke-width="3.1"/><path d="M666.37,730.2v-16.3M666.37,99.5v16.3" stroke-width="3.1"/><path d="M670.73,730.2v-16.3M670.73,99.5v16.3" stroke-width="3.1"/><path d="M674.57,730.2v-16.3M674.57,99.5v16.3" stroke-width="3.1"/><path d="M678.01,730.2v-31.2M678.01,99.5v31.2" stroke-width="3.7"/><path d="M700.63,730.2v-16.3M700.63,99.5v16.3" stroke-width="3.1"/><path d="M713.86,730.2v-16.3M713.86,99.5v16.3" stroke-width="3.1"/><path d="M723.24,730.2v-16.3M723.24,99.5v16.3" stroke-width="3.1"/><path d="M730.52,730.2v-16.3M730.52,99.5v16.3" stroke-width="3.1"/><path d="M99.7,152.10h31.2M730.3,152.10h-31.2" stroke-width="3.7"/><path d="M99.7,112.57h16.3M730.3,112.57h-16.3" stroke-width="3.1"/><path d="M99.7,283.40h31.2M730.3,283.40h-31.2" stroke-width="3.7"/><path d="M99.7,243.87h16.3M730.3,243.87h-16.3" stroke-width="3.1"/><path d="M99.7,220.75h16.3M730.3,220.75h-16.3" stroke-width="3.1"/><path d="M99.7,204.35h16.3M730.3,204.35h-16.3" stroke-width="3.1"/><path d="M99.7,191.63h16.3M730.3,191.63h-16.3" stroke-width="3.1"/><path d="M99.7,181.23h16.3M730.3,181.23h-16.3" stroke-width="3.1"/><path d="M99.7,172.44h16.3M730.3,172.44h-16.3" stroke-width="3.1"/><path d="M99.7,164.82h16.3M730.3,164.82h-16.3" stroke-width="3.1"/><path d="M99.7,158.11h16.3M730.3,158.11h-16.3" stroke-width="3.1"/><path d="M99.7,414.70h31.2M730.3,414.70h-31.2" stroke-width="3.7"/><path d="M99.7,375.17h16.3M730.3,375.17h-16.3" stroke-width="3.1"/><path d="M99.7,352.05h16.3M730.3,352.05h-16.3" stroke-width="3.1"/><path d="M99.7,335.65h16.3M730.3,335.65h-16.3" stroke-width="3.1"/><path d="M99.7,322.93h16.3M730.3,322.93h-16.3" stroke-width="3.1"/><path d="M99.7,312.53h16.3M730.3,312.53h-16.3" stroke-width="3.1"/><path d="M99.7,303.74h16.3M730.3,303.74h-16.3" stroke-width="3.1"/><path d="M99.7,296.12h16.3M730.3,296.12h-16.3" stroke-width="3.1"/><path d="M99.7,289.41h16.3M730.3,289.41h-16.3" stroke-width="3.1"/><path d="M99.7,546.00h31.2M730.3,546.00h-31.2" stroke-width="3.7"/><path d="M99.7,506.47h16.3M730.3,506.47h-16.3" stroke-width="3.1"/><path d="M99.7,483.35h16.3M730.3,483.35h-16.3" stroke-width="3.1"/><path d="M99.7,466.95h16.3M730.3,466.95h-16.3" stroke-width="3.1"/><path d="M99.7,454.23h16.3M730.3,454.23h-16.3" stroke-width="3.1"/><path d="M99.7,443.83h16.3M730.3,443.83h-16.3" stroke-width="3.1"/><path d="M99.7,435.04h16.3M730.3,435.04h-16.3" stroke-width="3.1"/><path d="M99.7,427.42h16.3M730.3,427.42h-16.3" stroke-width="3.1"/><path d="M99.7,420.71h16.3M730.3,420.71h-16.3" stroke-width="3.1"/><path d="M99.7,677.30h31.2M730.3,677.30h-31.2" stroke-width="3.7"/><path d="M99.7,637.77h16.3M730.3,637.77h-16.3" stroke-width="3.1"/><path d="M99.7,614.65h16.3M730.3,614.65h-16.3" stroke-width="3.1"/><path d="M99.7,598.25h16.3M730.3,598.25h-16.3" stroke-width="3.1"/><path d="M99.7,585.53h16.3M730.3,585.53h-16.3" stroke-width="3.1"/><path d="M99.7,575.13h16.3M730.3,575.13h-16.3" stroke-width="3.1"/><path d="M99.7,566.34h16.3M730.3,566.34h-16.3" stroke-width="3.1"/><path d="M99.7,558.72h16.3M730.3,558.72h-16.3" stroke-width="3.1"/><path d="M99.7,552.01h16.3M730.3,552.01h-16.3" stroke-width="3.1"/><path d="M99.7,729.55h16.3M730.3,729.55h-16.3" stroke-width="3.1"/><path d="M99.7,716.83h16.3M730.3,716.83h-16.3" stroke-width="3.1"/><path d="M99.7,706.43h16.3M730.3,706.43h-16.3" stroke-width="3.1"/><path d="M99.7,697.64h16.3M730.3,697.64h-16.3" stroke-width="3.1"/><path d="M99.7,690.02h16.3M730.3,690.02h-16.3" stroke-width="3.1"/><path d="M99.7,683.31h16.3M730.3,683.31h-16.3" stroke-width="3.1"/></g>
<rect x="99.7" y="99.5" width="630.6" height="630.7" fill="none" stroke="#000" stroke-width="4.4"/>
<path d="M103.1,456.1L105.9,447.9M112.0,430.1L115.0,421.9M121.4,404.5L124.6,396.5M132.3,378.0L135.7,370.0M144.1,351.9L147.9,344.1M156.3,328.8L160.7,321.2M170.7,304.7L175.3,297.3M184.6,282.6L189.4,275.4M200.4,259.5L205.6,252.5M218.1,237.3L223.9,230.7M237.8,216.0L244.2,210.0M257.5,198.6L264.5,193.4M279.3,183.2L286.7,178.8M303.7,169.8L311.5,166.2M329.3,159.0L337.5,156.2M355.8,150.7L364.2,148.5M382.7,144.9L391.3,143.3M409.7,140.5L418.3,139.3M437.1,137.0L445.7,136.0M464.7,134.3L473.3,133.7M491.7,132.4L500.3,131.8M519.1,130.8L527.7,130.4M546.7,129.7L555.3,129.5M574.7,129.1L583.3,128.9M601.7,128.6L610.3,128.6M629.7,128.4L638.3,128.4M657.2,128.4L666.0,128.4M684.6,128.4L693.4,128.4M712.6,128.4L721.4,128.4" stroke="#000" stroke-width="5.2" stroke-linecap="round" fill="none" clip-path="url(#ax)"/>
<path d="M149.7,169.8H278.1A18.5,18.5 0 0 1 296.6,188.3V492.4A18.5,18.5 0 0 1 278.1,510.9H149.7A18.5,18.5 0 0 1 131.2,492.4V188.3A18.5,18.5 0 0 1 149.7,169.8Z" fill="#fff" fill-opacity="0.9" stroke="#000" stroke-width="1.5"/>
<path d="M169.3,186.0H178.2M197.1,186.0H203.5" stroke="#000" stroke-width="3.15" stroke-linecap="round"/>
<text x="215.9" y="191.7" font-size="26.3" textLength="19.6" lengthAdjust="spacingAndGlyphs">Δ</text>
<text x="236.3" y="191.7" font-size="26.3" font-style="italic" textLength="12" lengthAdjust="spacingAndGlyphs">q</text>
<path d="M169.2,229.8H203.5" stroke="#0000ff" stroke-width="3.15" stroke-linecap="round"/>
<text x="215.3" y="226.7" class="s" font-size="17.8" letter-spacing="1.3">4</text>
<text x="225.8" y="235.8" font-size="26.3" textLength="30.6" lengthAdjust="spacingAndGlyphs">He</text>
<path d="M169.2,273.8H203.5" stroke="#ffb6c1" stroke-width="3.15" stroke-linecap="round"/>
<text x="215.3" y="270.7" class="s" font-size="17.8" letter-spacing="1.3">12</text>
<text x="236.2" y="279.8" font-size="26.3" textLength="18.9" lengthAdjust="spacingAndGlyphs">C</text>
<path d="M169.2,317.9H203.5" stroke="#00ffff" stroke-width="3.15" stroke-linecap="round"/>
<text x="215.3" y="314.8" class="s" font-size="17.8" letter-spacing="1.3">40</text>
<text x="236.2" y="323.9" font-size="26.3" textLength="31.6" lengthAdjust="spacingAndGlyphs">Ca</text>
<path d="M169.2,361.9H203.5" stroke="#ffd700" stroke-width="3.15" stroke-linecap="round"/>
<text x="215.3" y="358.8" class="s" font-size="17.8" letter-spacing="1.3">44</text>
<text x="236.2" y="367.9" font-size="26.3" textLength="26.3" lengthAdjust="spacingAndGlyphs">Ti</text>
<path d="M169.2,405.8H203.5" stroke="#000080" stroke-width="3.15" stroke-linecap="round"/>
<text x="215.3" y="402.7" class="s" font-size="17.8" letter-spacing="1.3">48</text>
<text x="236.2" y="411.8" font-size="26.3" textLength="28.9" lengthAdjust="spacingAndGlyphs">Cr</text>
<path d="M169.2,449.8H203.5" stroke="#ff0000" stroke-width="3.15" stroke-linecap="round"/>
<text x="215.3" y="446.7" class="s" font-size="17.8" letter-spacing="1.3">52</text>
<text x="236.2" y="455.8" font-size="26.3" textLength="28.4" lengthAdjust="spacingAndGlyphs">Fe</text>
<path d="M169.2,493.8H203.5" stroke="#808080" stroke-width="3.15" stroke-linecap="round"/>
<text x="215.3" y="490.7" class="s" font-size="17.8" letter-spacing="1.3">56</text>
<text x="236.2" y="499.8" font-size="26.3" textLength="26.7" lengthAdjust="spacingAndGlyphs">Ni</text>
<text x="149.9" y="770.4" font-size="30" text-anchor="middle">10<tspan class="s" font-size="22" dy="-10.3">3</tspan></text>
<text x="225.0" y="770.4" font-size="30" text-anchor="middle">10<tspan class="s" font-size="22" dy="-10.3">4</tspan></text>
<text x="300.2" y="770.4" font-size="30" text-anchor="middle">10<tspan class="s" font-size="22" dy="-10.3">5</tspan></text>
<text x="375.3" y="770.4" font-size="30" text-anchor="middle">10<tspan class="s" font-size="22" dy="-10.3">6</tspan></text>
<text x="450.4" y="770.4" font-size="30" text-anchor="middle">10<tspan class="s" font-size="22" dy="-10.3">7</tspan></text>
<text x="525.5" y="770.4" font-size="30" text-anchor="middle">10<tspan class="s" font-size="22" dy="-10.3">8</tspan></text>
<text x="600.7" y="770.4" font-size="30" text-anchor="middle">10<tspan class="s" font-size="22" dy="-10.3">9</tspan></text>
<text x="675.8" y="770.4" font-size="30" text-anchor="middle">10<tspan class="s" font-size="22" dy="-10.3">10</tspan></text>
<text x="415" y="801.6" font-size="30" text-anchor="middle" textLength="323" lengthAdjust="spacingAndGlyphs">Post-shock position (cm)</text>
<text transform="translate(74.3,152.1) rotate(-90)" font-size="30" text-anchor="middle">1</text>
<g transform="translate(77.1,284.1) rotate(-90)"><text x="-30.6" y="0" font-size="30">10</text><rect x="1.8" y="-16.7" width="13.2" height="1.4"/><text class="s" x="18" y="-11" font-size="22">1</text></g>
<g transform="translate(77.1,415.4) rotate(-90)"><text x="-30.6" y="0" font-size="30">10</text><rect x="1.8" y="-16.7" width="13.2" height="1.4"/><text class="s" x="18" y="-11" font-size="22">2</text></g>
<g transform="translate(77.1,546.7) rotate(-90)"><text x="-30.6" y="0" font-size="30">10</text><rect x="1.8" y="-16.7" width="13.2" height="1.4"/><text class="s" x="18" y="-11" font-size="22">3</text></g>
<g transform="translate(77.1,678.0) rotate(-90)"><text x="-30.6" y="0" font-size="30">10</text><rect x="1.8" y="-16.7" width="13.2" height="1.4"/><text class="s" x="18" y="-11" font-size="22">4</text></g>
<text transform="translate(777.6,153.1) rotate(-90)" font-size="30" text-anchor="middle">10<tspan class="s" font-size="22" dy="-11">18</tspan></text>
<text transform="translate(777.6,284.4) rotate(-90)" font-size="30" text-anchor="middle">10<tspan class="s" font-size="22" dy="-11">17</tspan></text>
<text transform="translate(777.6,415.7) rotate(-90)" font-size="30" text-anchor="middle">10<tspan class="s" font-size="22" dy="-11">16</tspan></text>
<text transform="translate(777.6,547.0) rotate(-90)" font-size="30" text-anchor="middle">10<tspan class="s" font-size="22" dy="-11">15</tspan></text>
<text transform="translate(777.6,678.3) rotate(-90)" font-size="30" text-anchor="middle">10<tspan class="s" font-size="22" dy="-11">14</tspan></text>
<g transform="translate(35.2,414.8) rotate(-90)" font-style="italic"><text x="-16.5" y="0" font-size="31" textLength="24.2" lengthAdjust="spacingAndGlyphs">X</text><text x="9.3" y="5.2" font-size="22.5">i</text></g>
<text transform="translate(814,415) rotate(-90)" font-size="31.5" text-anchor="middle" textLength="139" lengthAdjust="spacingAndGlyphs">Δ<tspan font-style="italic">q</tspan> (erg/g)</text>
</svg></body></html>
